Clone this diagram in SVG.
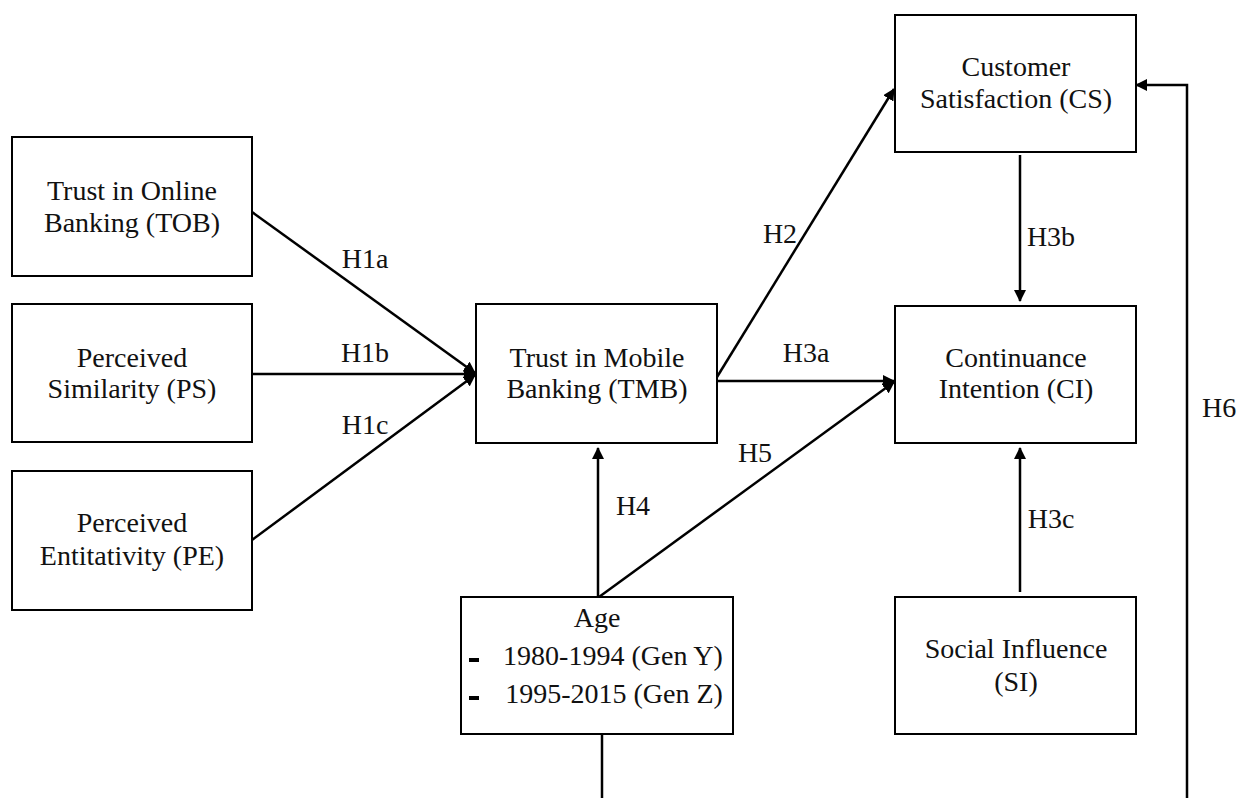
<svg xmlns="http://www.w3.org/2000/svg" width="1238" height="798" viewBox="0 0 1238 798">
<style>
.box{fill:#fff;stroke:#000;stroke-width:2}
.t{font-family:"Liberation Serif","Times New Roman",serif;font-size:28px;fill:#111;text-anchor:middle}
.l{font-family:"Liberation Serif","Times New Roman",serif;font-size:28px;fill:#111;text-anchor:middle}
.s{font-family:"Liberation Serif","Times New Roman",serif;font-size:28px;fill:#111}
.c{fill:none;stroke:#000;stroke-width:2.5}
</style>
<defs>
<marker id="ah" viewBox="0 0 12 12" refX="11" refY="6" markerWidth="12" markerHeight="12" markerUnits="userSpaceOnUse" orient="auto">
<path d="M0,0 L12,6 L0,12 Z" fill="#000"/>
</marker>
</defs>
<rect width="1238" height="798" fill="#fff"/>
<g id="connectors">
<line class="c" x1="252" y1="212" x2="475" y2="373" marker-end="url(#ah)"/>
<line class="c" x1="252" y1="374" x2="475" y2="374" marker-end="url(#ah)"/>
<line class="c" x1="252" y1="540" x2="475" y2="375" marker-end="url(#ah)"/>
<line class="c" x1="717" y1="377" x2="894" y2="89" marker-end="url(#ah)"/>
<line class="c" x1="717" y1="381" x2="894" y2="381" marker-end="url(#ah)"/>
<line class="c" x1="599" y1="597" x2="894" y2="382" marker-end="url(#ah)"/>
<line class="c" x1="598" y1="597" x2="598" y2="448" marker-end="url(#ah)"/>
<line class="c" x1="1020" y1="155" x2="1020" y2="301" marker-end="url(#ah)"/>
<line class="c" x1="1020" y1="592" x2="1020" y2="448" marker-end="url(#ah)"/>
<line class="c" x1="602" y1="734" x2="602" y2="800"/>
<polyline class="c" points="1187,800 1187,85 1136,85" marker-end="url(#ah)"/>
<text class="l" x="365" y="268">H1a</text>
<text class="l" x="365" y="362">H1b</text>
<text class="l" x="365" y="434">H1c</text>
<text class="l" x="780" y="243">H2</text>
<text class="l" x="806" y="362">H3a</text>
<text class="l" x="755" y="462">H5</text>
<text class="l" x="633" y="515">H4</text>
<text class="l" x="1051" y="246">H3b</text>
<text class="l" x="1051" y="528">H3c</text>
<text class="s" x="1202" y="417">H6</text>
</g>
<g id="TOB">
<rect class="box" x="12" y="137" width="240" height="139"/>
<text class="t" x="132" y="200">Trust in Online</text>
<text class="t" x="132" y="232">Banking (TOB)</text>
</g>
<g id="PS">
<rect class="box" x="12" y="304" width="240" height="138"/>
<text class="t" x="132" y="367">Perceived</text>
<text class="t" x="132" y="398">Similarity (PS)</text>
</g>
<g id="PE">
<rect class="box" x="12" y="471" width="240" height="139"/>
<text class="t" x="132" y="532">Perceived</text>
<text class="t" x="132" y="565">Entitativity (PE)</text>
</g>
<g id="TMB">
<rect class="box" x="476" y="304" width="241" height="139"/>
<text class="t" x="597" y="367">Trust in Mobile</text>
<text class="t" x="597" y="398">Banking (TMB)</text>
</g>
<g id="CS">
<rect class="box" x="895" y="15" width="241" height="137"/>
<text class="t" x="1016" y="76">Customer</text>
<text class="t" x="1016" y="108">Satisfaction (CS)</text>
</g>
<g id="CI">
<rect class="box" x="895" y="306" width="241" height="137"/>
<text class="t" x="1016" y="367">Continuance</text>
<text class="t" x="1016" y="398">Intention (CI)</text>
</g>
<g id="SI">
<rect class="box" x="895" y="597" width="241" height="137"/>
<text class="t" x="1016" y="658">Social Influence</text>
<text class="t" x="1016" y="691">(SI)</text>
</g>
<g id="Age">
<rect class="box" x="461" y="597" width="272" height="137"/>
<text class="t" x="597" y="627">Age</text>
<rect x="469" y="658" width="10" height="4" fill="#000"/>
<text class="t" x="613" y="665">1980-1994 (Gen Y)</text>
<rect x="469" y="696" width="10" height="4" fill="#000"/>
<text class="t" x="614" y="703">1995-2015 (Gen Z)</text>
</g>
</svg>
